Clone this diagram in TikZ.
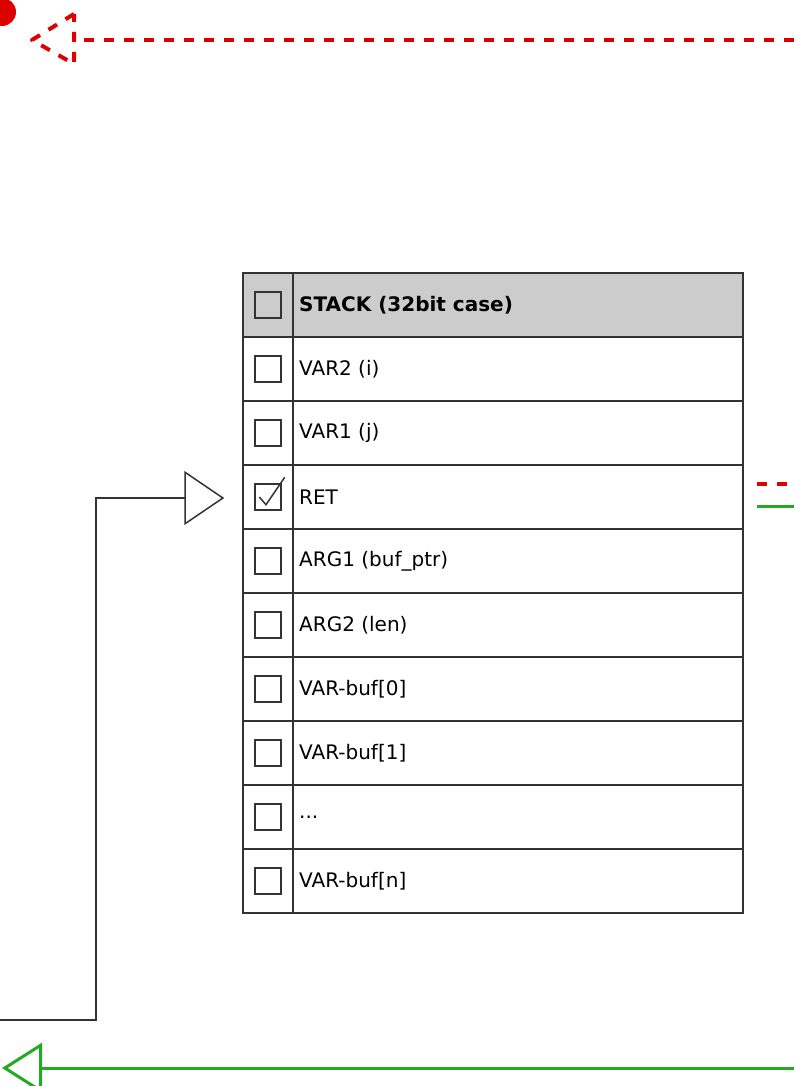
\documentclass[tikz,border=0pt]{standalone}
\usepackage{fontspec}
\setmainfont{DejaVu Sans}
\usepackage{xcolor}
\usetikzlibrary{arrows.meta,calc}
\definecolor{stackgray}{HTML}{CCCCCC}
\definecolor{linegray}{HTML}{333333}
\definecolor{flowred}{HTML}{DD0000}
\definecolor{flowgreen}{HTML}{22AA22}

\begin{document}
\begin{tikzpicture}[x=1pt,y=-1pt,
    cell/.style={draw=linegray,line width=1.5pt,minimum width=500pt,minimum height=64pt,inner sep=0pt},
    tick/.style={draw=linegray,line width=1.4pt,minimum size=26pt,inner sep=0pt},
    lbl/.style={anchor=west,inner sep=0pt,font=\fontsize{20}{24}\selectfont},
    redflow/.style={flowred,line width=4pt,dash pattern=on 10pt off 10pt},
    greenflow/.style={flowgreen,line width=3pt}]
    \useasboundingbox (0,0) rectangle (794,1086);
    % stack frame
    \node[cell,fill=stackgray] (r0) at (493,305) {};
    \foreach \i in {1,...,9}
      \node[cell] (r\i) at (493,305+64*\i) {};
    \draw[linegray,line width=1.5pt] (293,273) -- (293,913);
    \foreach \i/\t in {0/{\textbf{STACK (32bit case)}},1/{VAR2 (i)},2/{VAR1 (j)},3/{RET},4/{ARG1 (buf\_ptr)},5/{ARG2 (len)},6/{VAR-buf[0]},7/{VAR-buf[1]},8/{...},9/{VAR-buf[n]}}{
      \node[tick] (c\i) at (268,305+64*\i) {};
      \node[lbl] (t\i) at (299,305+64*\i) {\t};
    }
    \draw[linegray,line width=1.5pt] ($(c3.west)+(5,0)$) -- ($(c3.south)+(-2,-6)$) -- ($(c3.north east)+(3,-6)$);
    % return address
    \coordinate (retin) at (0,1020);
    \draw[linegray,line width=1.5pt,-{Triangle[open,length=40pt,width=54pt]},shorten >=18pt]
      (retin) -- (96,1020) -- (96,498) -- (r3.west |- 0,498);
    % flows
    \coordinate (redin) at (794,40);
    \coordinate (redtip) at (32,40);
    \draw[redflow] (redin) -- (74,40);
    \draw[redflow,line join=round] (74,14) -- (redtip) -- (74,64) -- cycle;
    \fill[flowred] (2,12) circle (14pt);
    \coordinate (greenin) at (794,1068);
    \coordinate (greentip) at (2,1068);
    \draw[greenflow,-{Triangle[open,length=40pt,width=50pt]}] (greenin) -- (greentip);
    \draw[redflow] (757,484) -- (794,484);
    \draw[greenflow] (757,506) -- (794,506);
\end{tikzpicture}
\end{document}
